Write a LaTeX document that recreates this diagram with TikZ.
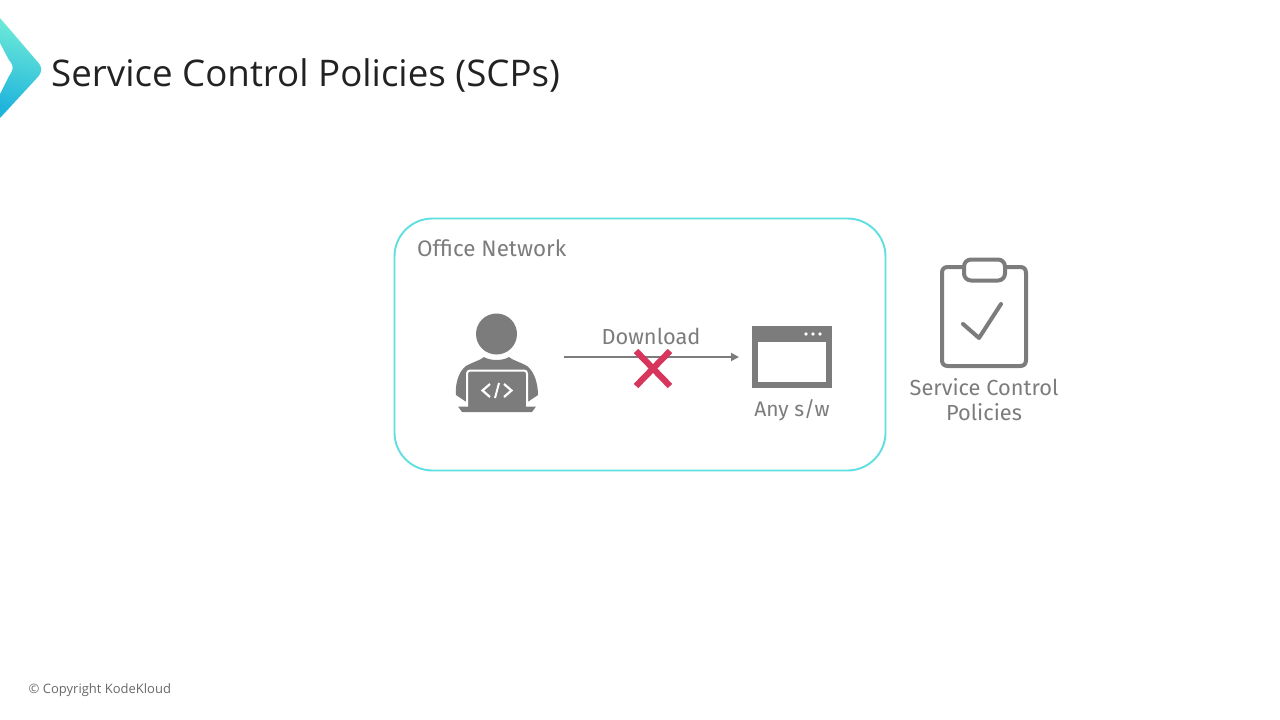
\documentclass[tikz,border=0pt]{standalone}
\usepackage{fontspec}
\setmainfont{Open Sans}
\newfontfamily\labelfont{Fira Sans}
\usetikzlibrary{arrows.meta}
\definecolor{ink}{HTML}{7C7C7C}
\definecolor{cyanline}{HTML}{5FE0E0}
\definecolor{crossred}{HTML}{D6365C}
\definecolor{logotop}{HTML}{6FEBD8}
\definecolor{logobot}{HTML}{1FB4DC}
\definecolor{titleink}{HTML}{222222}
\tikzset{
  lbl/.style={font=\labelfont\fontsize{21.8}{25}\selectfont,text=ink,inner sep=0pt,align=center},
  iconline/.style={draw=ink,line width=4pt,line join=round,line cap=round},
  connector/.style={draw=ink,line width=1.8pt,-{Triangle[length=8pt,width=8pt]}},
  crossbar/.style={draw=crossred,line width=6.2pt},
}
\begin{document}
\begin{tikzpicture}[x=1pt,y=-1pt]
\useasboundingbox[fill=white] (0,0) rectangle (1280,720);
% logo
\shade[top color=logotop,bottom color=logobot,shading angle=-15]
  (0,18) -- (36,60) .. controls (43,67) and (43,72) .. (36,79) -- (0,118) -- (0,94)
  -- (9,76) .. controls (14,69) and (14,66) .. (9,60) -- (0,43) -- cycle;
\node[anchor=west,inner sep=0pt,text=titleink,font=\fontsize{36.7}{42}\selectfont] (title) at (51,75) {Service Control Policies (SCPs)};
% network box
\node[draw=cyanline,line width=1.9pt,rounded corners=38pt,minimum width=491pt,minimum height=252pt,inner sep=0pt] (net) at (640,344.5) {};
\node[lbl,anchor=west,font=\labelfont\fontsize{22.4}{25}\selectfont] (netlabel) at (417,248.5) {Office Network};
% person icon
\fill[ink] (496.5,334) circle (20.5);
\fill[ink] (456,395) .. controls (455,385) and (458,372) .. (466,366)
  .. controls (473,362) and (481,360) .. (484,357) .. controls (490,361) and (503,361) .. (509,357)
  .. controls (512,360) and (520,362) .. (527,366) .. controls (535,372) and (538,385) .. (538,395)
  -- (526,403) -- (468,403) -- cycle;
\fill[ink] (467,372) rectangle (527,408);
\draw[white,line width=2pt,rounded corners=3pt] (467,408) -- (467,370.5) -- (527,370.5) -- (527,408);
\fill[ink] (458,406.5) -- (536,406.5) -- (532,412) -- (462,412) -- cycle;
\draw[white,line width=2.2pt,line join=miter] (490,384) -- (482.5,390.5) -- (490,397);
\draw[white,line width=2.2pt,line join=miter] (504,384) -- (511.5,390.5) -- (504,397);
\draw[white,line width=2pt] (499,383) -- (495,398);
% window icon
\fill[ink] (752,326) rectangle (832,388);
\fill[white] (758,342) rectangle (826,382);
\foreach \x in {806,813,820} \fill[white] (\x,334) circle (1.8);
\node[inner sep=0pt,minimum width=80pt,minimum height=62pt] (win) at (792,357) {};
\node[inner sep=0pt,minimum size=0pt] (userport) at (564,357) {};
\coordinate (winport) at (739,357);
% connector
\draw[connector] (userport) -- (winport);
\node[lbl] (dl) at (651,336.5) {Download};
\node[lbl,font=\labelfont\fontsize{21}{25}\selectfont] (anysw) at (792,410.5) {Any s/w};
% cross
\draw[crossred,crossbar] (636,351) -- (670,386);
\draw[crossred,crossbar] (670,351) -- (636,386);
% clipboard
\draw[iconline] (963,267) -- (948,267) .. controls (944,267) and (942,269) .. (942,273)
  -- (942,360) .. controls (942,364) and (944,366) .. (948,366)
  -- (1020,366) .. controls (1024,366) and (1026,364) .. (1026,360)
  -- (1026,273) .. controls (1026,269) and (1024,267) .. (1020,267) -- (1005,267);
\draw[iconline,rounded corners=7pt] (964,259.5) rectangle (1005,280.5);
\draw[iconline] (963,324) -- (979,338) -- (1001,304);
\node[lbl] (scp) at (984,400) {Service Control\\[0pt]Policies};
% footer
\node[anchor=west,inner sep=0pt,text=ink!85!black,font=\fontsize{13}{15}\selectfont] (copy) at (28.5,690) {© Copyright KodeKloud};
\end{tikzpicture}
\end{document}
